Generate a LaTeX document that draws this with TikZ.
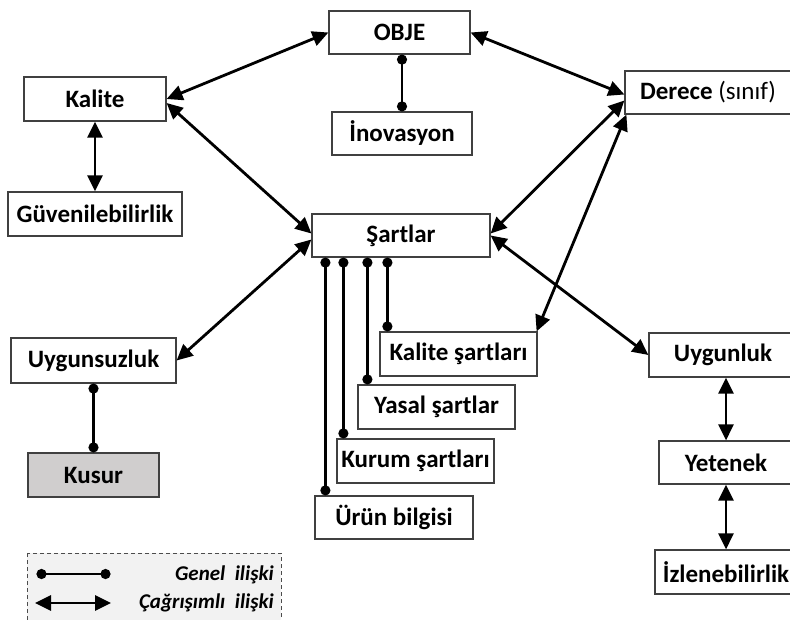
\documentclass[tikz,border=0pt]{standalone}
\usepackage{fontspec}
\setmainfont{Carlito}
\usetikzlibrary{arrows.meta}
\begin{document}
\begin{tikzpicture}[x=1pt,y=-1pt,
  box/.style={draw=black!75,line width=1.2pt,fill=white,inner sep=0pt,
    font=\fontsize{25}{29}\selectfont\bfseries,anchor=center},
  cagr/.style={line width=2.8pt,{Triangle[length=16pt,width=15pt]}-{Triangle[length=16pt,width=15pt]}},
  genel/.style={line width=2.8pt,{Circle[length=10pt]}-{Circle[length=10pt]}},
  legtext/.style={font=\fontsize{21}{25}\selectfont\bfseries\itshape,anchor=base east,inner sep=0pt}]
\useasboundingbox (0,0) rectangle (790,619);
% legend background
\draw[draw=black!70,line width=1pt,dash pattern=on 4pt off 3pt,fill=black!5] (27,553) rectangle (281,640);
% nodes
\node[box,minimum width=141pt,minimum height=43pt] (obj) at (399.5,32.5) {OBJE};
\node[box,minimum width=140pt,minimum height=43pt] (ino) at (402,133.5) {İnovasyon};
\node[box,minimum width=142pt,minimum height=44pt] (kal) at (95,99) {Kalite};
\node[box,minimum width=174pt,minimum height=44pt] (guv) at (95,214) {Güvenilebilirlik};
\node[box,minimum width=178pt,minimum height=43pt] (sart) at (401,235.5) {Şartlar};
\node[box,minimum width=166pt,minimum height=43pt] (der) at (708,92.5) {Derece \mdseries(sınıf)};
\node[box,minimum width=165pt,minimum height=45pt] (uys) at (93.5,360.5) {Uygunsuzluk};
\node[box,minimum width=131pt,minimum height=44pt,fill={rgb,255:red,208;green,206;blue,206}] (kus) at (93.5,475) {Kusur};
\node[box,minimum width=157pt,minimum height=44pt] (ks) at (458.5,354) {Kalite şartları};
\node[box,minimum width=157pt,minimum height=44pt] (ys) at (436.5,407) {Yasal şartlar};
\node[box,minimum width=157pt,minimum height=44pt] (kur) at (415.5,461) {Kurum şartları};
\node[box,minimum width=158pt,minimum height=43pt] (urun) at (394,517.5) {Ürün bilgisi};
\node[box,minimum width=148pt,minimum height=44pt] (uyg) at (723,355) {Uygunluk};
\node[box,minimum width=134pt,minimum height=43pt] (yet) at (726,462.5) {Yetenek};
\node[box,minimum width=142pt,minimum height=44pt] (izl) at (726,572) {İzlenebilirlik};
% associative relations
\draw[cagr] (kal.east) -- (obj.west);
\draw[cagr] ([yshift=-4pt]kal.east) -- ([yshift=2pt]sart.west);
\draw[cagr] (kal.south) -- (guv.north);
\draw[cagr] (obj.east) -- ([yshift=-2pt]der.west);
\draw[cagr] ([yshift=-8pt]der.west) -- ([yshift=2pt]sart.east);
\draw[cagr] ([xshift=2pt]der.south west) -- ([xshift=-1pt]ks.north east);
\draw[cagr] (sart.east) -- (uyg.west);
\draw[cagr] ([yshift=-4pt]sart.west) -- (uys.east);
\draw[cagr] (uyg.south -| yet.north) -- (yet.north);
\draw[cagr] (yet.south) -- (izl.north);
% general relations
\draw[genel] (obj.south -| ino.north) -- (ino.north);
\draw[genel] (uys.south) -- (uys.south |- kus.north);
\draw[genel] ([xshift=76pt]sart.south west) -- ([xshift=76pt]sart.south west |- ks.north);
\draw[genel] ([xshift=56pt]sart.south west) -- ([xshift=56pt]sart.south west |- ys.north);
\draw[genel] ([xshift=32pt]sart.south west) -- ([xshift=32pt]sart.south west |- kur.north);
\draw[genel] ([xshift=14pt]sart.south west) -- ([xshift=14pt]sart.south west |- urun.north);
% legend
\coordinate (la) at (36.5,574);
\coordinate (lb) at (110.5,574);
\coordinate (lc) at (35,603);
\coordinate (ld) at (111,603);
\draw[genel] (la) -- (lb);
\draw[cagr] (lc) -- (ld);
\node[legtext] (lt1) at (274,580) {Genel\ \ ilişki};
\node[legtext] (lt2) at (274,608) {Çağrışımlı\ \ ilişki};
\end{tikzpicture}
\end{document}
